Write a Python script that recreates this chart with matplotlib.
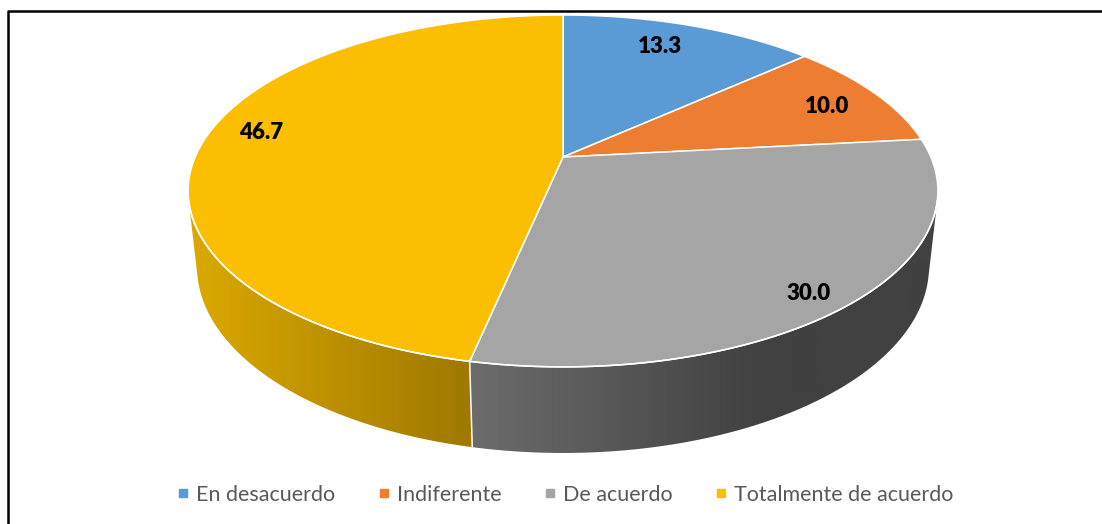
import numpy as np
import matplotlib.pyplot as plt
from matplotlib.patches import Polygon
from matplotlib.lines import Line2D
from matplotlib.colors import to_rgb

categories = ['En desacuerdo', 'Indiferente', 'De acuerdo', 'Totalmente de acuerdo']
values = [13.3, 10.0, 30.0, 46.7]
labels = ['13.3', '10.0', '30.0', '46.7']
top_colors = ['#5B9BD5', '#ED7D31', '#A5A5A5', '#FBBE00']
wall_light = ['#4A7FB0', '#C4652A', '#6C6C6C', '#DBA900']
wall_dark = ['#2F5478', '#8A461C', '#414141', '#9E7800']
wall_ramp = [1.0, 1.0, 0.62, 1.0]

# perspective camera for the 3d pie (pixel space)
cx, cy = 563, 157
f = 1692.0
D = 4.60
elev = np.radians(27.42)
h = 0.234
sa, ca = np.sin(elev), np.cos(elev)


def project(theta, z, r=1.0):
    # theta measured clockwise from 12 o'clock
    x = r * np.sin(theta)
    y = r * np.cos(theta)
    depth = y * ca + D - z * sa
    v = y * sa + z * ca
    return cx + f * x / depth, cy - f * v / depth


fig = plt.figure(figsize=(11.02, 5.24), dpi=100)
ax = fig.add_axes([0, 0, 1, 1])

frac = np.array(values) / sum(values)
edges = np.concatenate([[0], np.cumsum(frac)]) * 2 * np.pi

# visible part of the outer wall
t1 = np.arccos(-1.0 / (D * ca))
t2 = 2 * np.pi - t1

# walls: horizontal gradient clipped to the wall outline
for i in range(len(values)):
    s, e = max(edges[i], t1), min(edges[i + 1], t2)
    if e <= s:
        continue
    th = np.linspace(s, e, 300)
    xt, yt = project(th, 0)
    xb, yb = project(th, -h)
    outline = list(zip(xt, yt)) + list(zip(xb[::-1], yb[::-1]))
    wall = Polygon(outline, closed=True, facecolor='none', edgecolor='none')
    ax.add_patch(wall)
    x0, x1 = min(xt.min(), xb.min()), max(xt.max(), xb.max())
    t = np.clip(np.linspace(0, 1, 256) / wall_ramp[i], 0, 1)
    c0, c1 = np.array(to_rgb(wall_light[i])), np.array(to_rgb(wall_dark[i]))
    grad = c0[None, :] + (c1 - c0)[None, :] * t[:, None]
    img = np.repeat(grad[None, :, :], 2, axis=0)
    im = ax.imshow(img, extent=(x0, x1, max(yb.max(), yt.max()) + 2, min(yt.min(), yb.min()) - 2),
                   aspect='auto', interpolation='bilinear', zorder=1)
    im.set_clip_path(wall)

# top faces
for i in range(len(values)):
    th = np.linspace(edges[i], edges[i + 1], 300)
    xt, yt = project(th, 0)
    pts = [(cx, cy)] + list(zip(xt, yt))
    ax.add_patch(Polygon(pts, closed=True, facecolor=top_colors[i],
                         edgecolor='white', linewidth=1.1, zorder=2))

# white rim on the front and wall seams
th = np.linspace(t1, t2, 400)
xt, yt = project(th, 0)
ax.plot(xt, yt, color='white', lw=1.1, zorder=3)
for b in edges[1:-1]:
    if t1 < b < t2:
        xa, ya = project(b, 0)
        xb_, yb_ = project(b, -h)
        ax.plot([xa, xb_], [ya, yb_], color='white', lw=1.1, zorder=3)

# data labels
label_r = [0.73, 0.84, 0.87, 0.84]
label_dy = [-10, 4, 12, -10]
for i in range(len(values)):
    mid = (edges[i] + edges[i + 1]) / 2
    lx, ly = project(mid, 0, label_r[i])
    ax.text(lx, ly + label_dy[i], labels[i], ha='center', va='center',
            fontsize=16, fontweight='heavy', family='Lato', color='black', zorder=4)

# legend
handles = [Line2D([], [], marker='s', linestyle='none', markersize=5.5,
                  color=c) for c in top_colors]
ax.legend(handles, categories, loc='center', bbox_to_anchor=(565.5 / 1102, 1 - 495 / 524),
          ncol=4, frameon=False, handlelength=0.5, handletextpad=0.35,
          columnspacing=2.0, labelcolor='#595959',
          prop={'family': 'Lato', 'size': 15.5})

# chart frame
ax.plot([8, 8, 1102], [524, 11, 11], color='black', lw=1.8, zorder=5,
        solid_capstyle='projecting')

ax.set_xlim(0, 1102)
ax.set_ylim(524, 0)
ax.axis('off')

fig.savefig('out.png', dpi=100)
